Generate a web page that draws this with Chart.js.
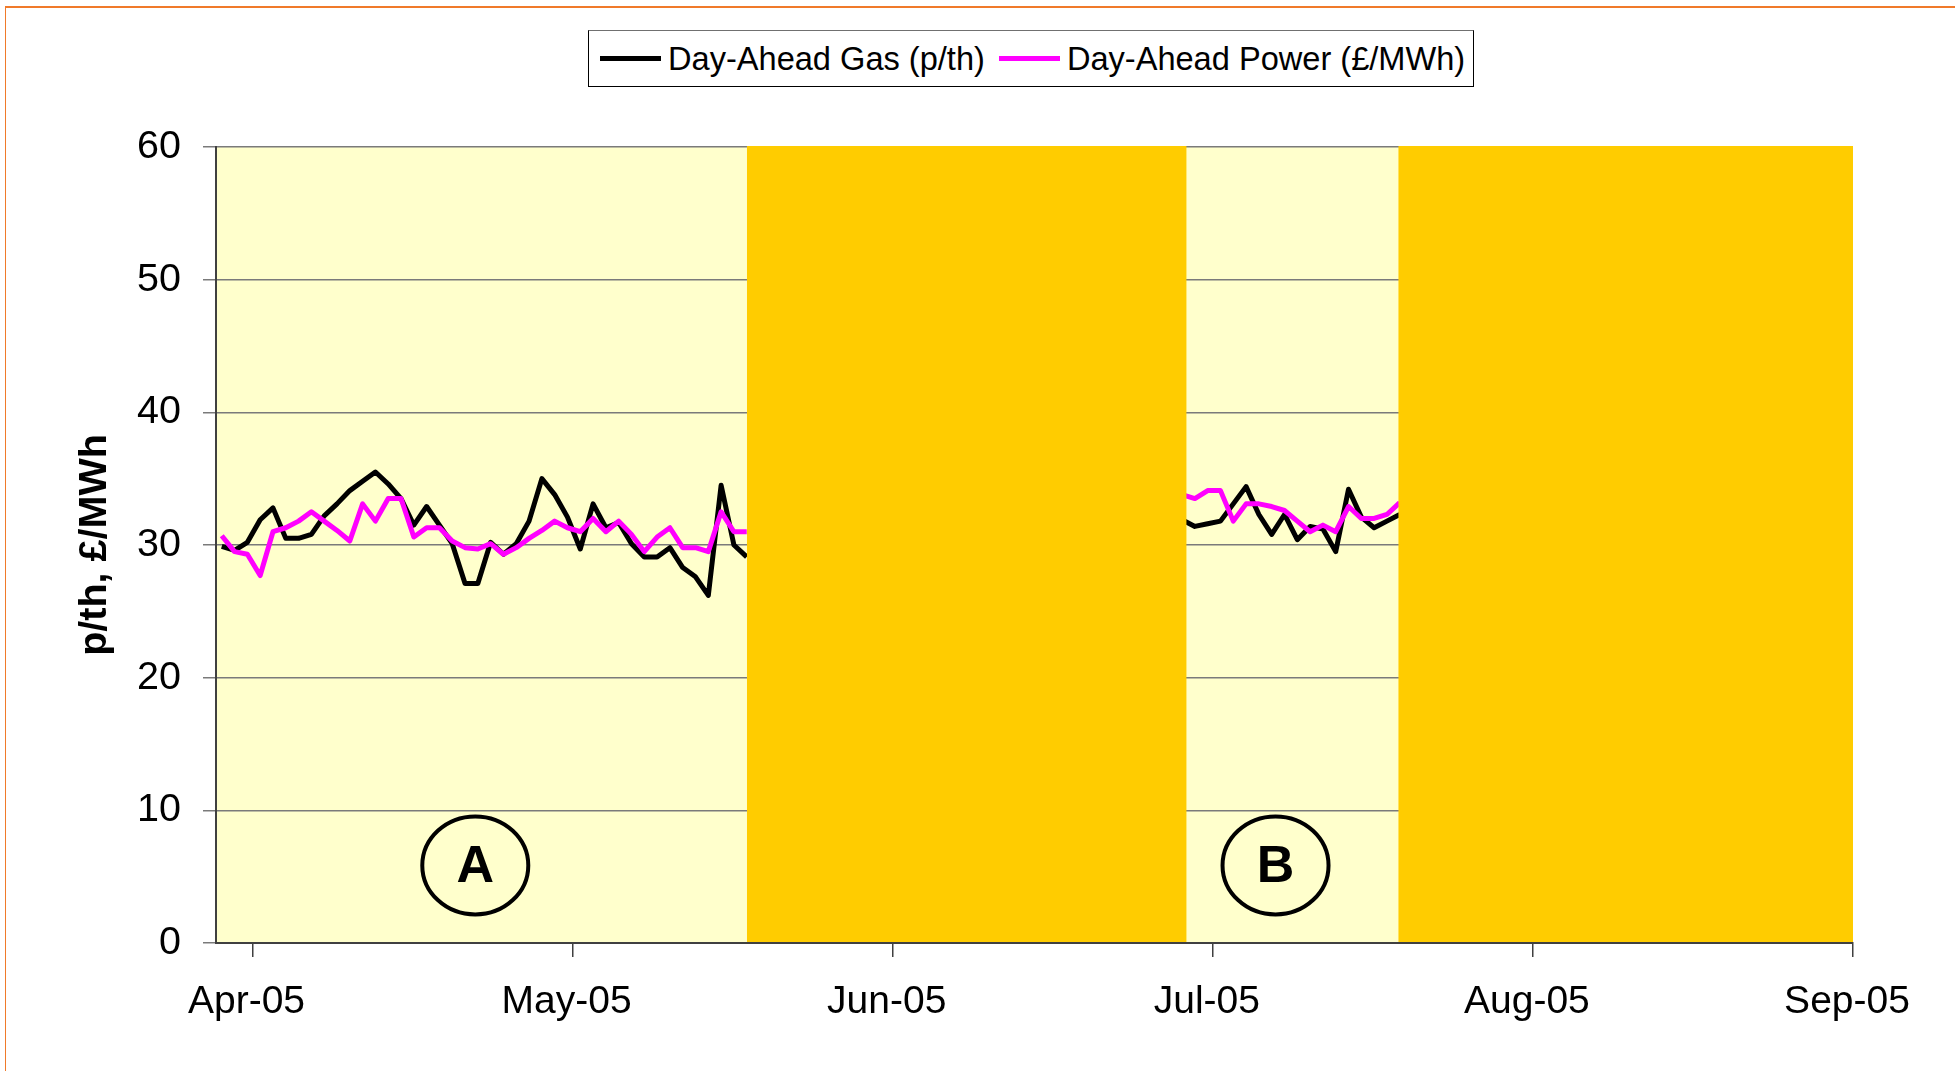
<!DOCTYPE html>
<html>
<head>
<meta charset="utf-8">
<script src="https://cdn.jsdelivr.net/npm/chart.js@4/dist/chart.umd.min.js"></script>
<style>
  html, body { margin:0; padding:0; background:#ffffff; width:1955px; height:1071px; overflow:hidden; }
  #wrap { position:relative; width:1955px; height:1071px; }
  #frame { position:absolute; left:5px; top:6px; width:2100px; height:1200px; border-top:2px solid #F07A2A; border-left:1px solid #F07A2A; }
  #c { position:absolute; left:0; top:0; }
  #legend { position:absolute; left:588px; top:30px; width:884px; height:55px; border:1px solid #000; border-top-color:#707070; background:#fff;
            font-family:'Liberation Sans', Arial, sans-serif; font-size:32.6px; color:#000; display:flex; align-items:center; box-sizing:content-box; }
  .item { display:flex; align-items:center; white-space:nowrap; }
  .swatch { display:inline-block; width:61px; height:5px; margin-right:7px; }
</style>
</head>
<body>
<div id="wrap">
  <div id="frame"></div>
  <canvas id="c" width="1955" height="1071"></canvas>
  <div id="legend">
    <div class="item" style="margin-left:11px;"><span class="swatch" style="background:#000000;"></span><span>Day-Ahead Gas (p/th)</span></div>
    <div class="item" style="margin-left:14px;"><span class="swatch" style="background:#FF00FF;"></span><span>Day-Ahead Power (£/MWh)</span></div>
  </div>
</div>
<script>
// ---- Data (x in trading-day slots; month ticks every 25 slots) ----
const monthLabels = ['Apr-05', 'May-05', 'Jun-05', 'Jul-05', 'Aug-05', 'Sep-05'];
const monthTickSlots = [2.4, 27.4, 52.4, 77.4, 102.4, 127.4];
const axisStartSlot = -0.45;
const axisEndSlot = 127.4;

const seriesNames = ['Day-Ahead Gas (p/th)', 'Day-Ahead Power (£/MWh)'];

// Period A (first observed window)
const startSlotA = 0;
const gasA = [29.9, 29.6, 30.2, 31.9, 32.8, 30.5, 30.5, 30.8, 32.2, 33.1, 34.1, 34.8, 35.5, 34.6,
              33.5, 31.5, 32.9, 31.5, 30.1, 27.1, 27.1, 30.2, 29.3, 30.1, 31.8, 35.0, 33.8, 32.1,
              29.7, 33.1, 31.3, 31.7, 30.1, 29.1, 29.1, 29.8, 28.3, 27.6, 26.2, 34.5, 30.0, 29.1];
const powerA = [30.7, 29.5, 29.3, 27.7, 31.0, 31.3, 31.8, 32.5, 31.8, 31.1, 30.3, 33.1, 31.8, 33.5,
                33.5, 30.6, 31.3, 31.3, 30.3, 29.8, 29.7, 30.1, 29.3, 29.8, 30.5, 31.1, 31.8, 31.3,
                31.0, 32.0, 31.0, 31.8, 30.8, 29.5, 30.6, 31.3, 29.8, 29.8, 29.5, 32.5, 31.0, 31.0];

// Period B (second observed window)
const startSlotB = 75;
const gasB = [31.9, 31.4, 31.6, 31.8, 33.1, 34.4, 32.3, 30.8, 32.3, 30.4, 31.4, 31.2, 29.5, 34.2, 32.1, 31.3, 31.8, 32.3];
const powerB = [33.8, 33.5, 34.1, 34.1, 31.8, 33.1, 33.1, 32.9, 32.6, 31.8, 31.0, 31.5, 31.0, 32.9, 32.0, 32.0, 32.3, 33.2];

// Shaded (unobserved) periods, in slots
const shadedPeriods = [[41.02, 75.34], [91.9, 127.4]];

// Circled period labels
const periodMarkers = [{ label: 'A', slot: 19.8, value: 5.85 }, { label: 'B', slot: 82.3, value: 5.85 }];

// ---- Build points ----
function buildPoints(start, vals) {
  return vals.map((v, i) => ({ x: start + i, y: v }));
}
const gasPts = buildPoints(startSlotA, gasA).concat([{ x: startSlotA + gasA.length, y: null }], buildPoints(startSlotB, gasB));
const powerPts = buildPoints(startSlotA, powerA).concat([{ x: startSlotA + powerA.length, y: null }], buildPoints(startSlotB, powerB));

const LIGHT = '#FFFFCC';
const ORANGE = '#FFCC00';
const AXIS = '#404040';
const FONT = "'Liberation Sans', Arial, sans-serif";

const bandsPlugin = {
  id: 'bands',
  beforeDraw(chart) {
    const { ctx, chartArea: a } = chart;
    ctx.save();
    ctx.fillStyle = LIGHT;
    ctx.fillRect(a.left, a.top, a.right - a.left, a.bottom - a.top);
    ctx.restore();
  },
  afterDatasetsDraw(chart) {
    const { ctx, chartArea: a } = chart;
    const xs = chart.scales.x, ys = chart.scales.y;
    ctx.save();
    ctx.fillStyle = ORANGE;
    shadedPeriods.forEach(([f, t]) => {
      const x0 = xs.getPixelForValue(f), x1 = xs.getPixelForValue(t);
      ctx.fillRect(x0, a.top - 1, x1 - x0, a.bottom - a.top);
    });
    ctx.strokeStyle = AXIS;
    ctx.lineWidth = 2;
    ctx.beginPath();
    ctx.moveTo(a.left, a.bottom);
    ctx.lineTo(a.right, a.bottom);
    ctx.stroke();
    // circled labels
    periodMarkers.forEach(m => {
      const cx = xs.getPixelForValue(m.slot), cy = ys.getPixelForValue(m.value);
      ctx.beginPath();
      ctx.ellipse(cx, cy, 53, 49, 0, 0, Math.PI * 2);
      ctx.lineWidth = 4;
      ctx.strokeStyle = '#000';
      ctx.stroke();
      ctx.fillStyle = '#000';
      ctx.font = "bold 52px " + FONT;
      ctx.textAlign = 'center';
      ctx.textBaseline = 'middle';
      ctx.fillText(m.label, cx, cy + 2);
    });
    ctx.restore();
  }
};

new Chart(document.getElementById('c'), {
  type: 'line',
  data: {
    datasets: [
      { label: seriesNames[1], data: powerPts, borderColor: '#FF00FF', backgroundColor: '#FF00FF', borderWidth: 5,
        pointRadius: 0, tension: 0, spanGaps: false, borderJoinStyle: 'round' },
      { label: seriesNames[0], data: gasPts, borderColor: '#000000', backgroundColor: '#000000', borderWidth: 5,
        pointRadius: 0, tension: 0, spanGaps: false, borderJoinStyle: 'round' }
    ]
  },
  options: {
    responsive: false,
    animation: false,
    devicePixelRatio: 1,
    layout: { padding: { top: 147, right: 102, bottom: 0, left: 0 } },
    plugins: { legend: { display: false }, tooltip: { enabled: false } },
    scales: {
      x: {
        type: 'linear',
        min: axisStartSlot,
        max: axisEndSlot,
        afterBuildTicks: (s) => { s.ticks = monthTickSlots.map(v => ({ value: v })); },
        afterFit: (s) => { s.height = 128; s.paddingLeft = 0; s.paddingRight = 0; },
        ticks: {
          autoSkip: false, maxRotation: 0, minRotation: 0, padding: 22, color: '#000', labelOffset: -6,
          font: { family: FONT, size: 39 },
          callback: (v, i) => monthLabels[i]
        },
        grid: { drawOnChartArea: false, drawTicks: true, tickLength: 14, color: AXIS, lineWidth: 1.5 },
        border: { display: true, color: AXIS, width: 2 }
      },
      y: {
        min: 0, max: 60,
        afterFit: (s) => { s.width = 216; s.paddingTop = 0; s.paddingBottom = 0; },
        ticks: { stepSize: 10, padding: 22, color: '#000', font: { family: FONT, size: 39.5 } },
        grid: { color: '#7a7a7a', lineWidth: 1.5, tickLength: 13, drawTicks: true },
        border: { display: true, color: AXIS, width: 2 },
        title: { display: true, text: 'p/th, £/MWh', color: '#000', font: { family: FONT, size: 39.5, weight: 'bold' },
                 padding: { top: 71, bottom: 0 } }
      }
    }
  },
  plugins: [bandsPlugin]
});
</script>
</body>
</html>
